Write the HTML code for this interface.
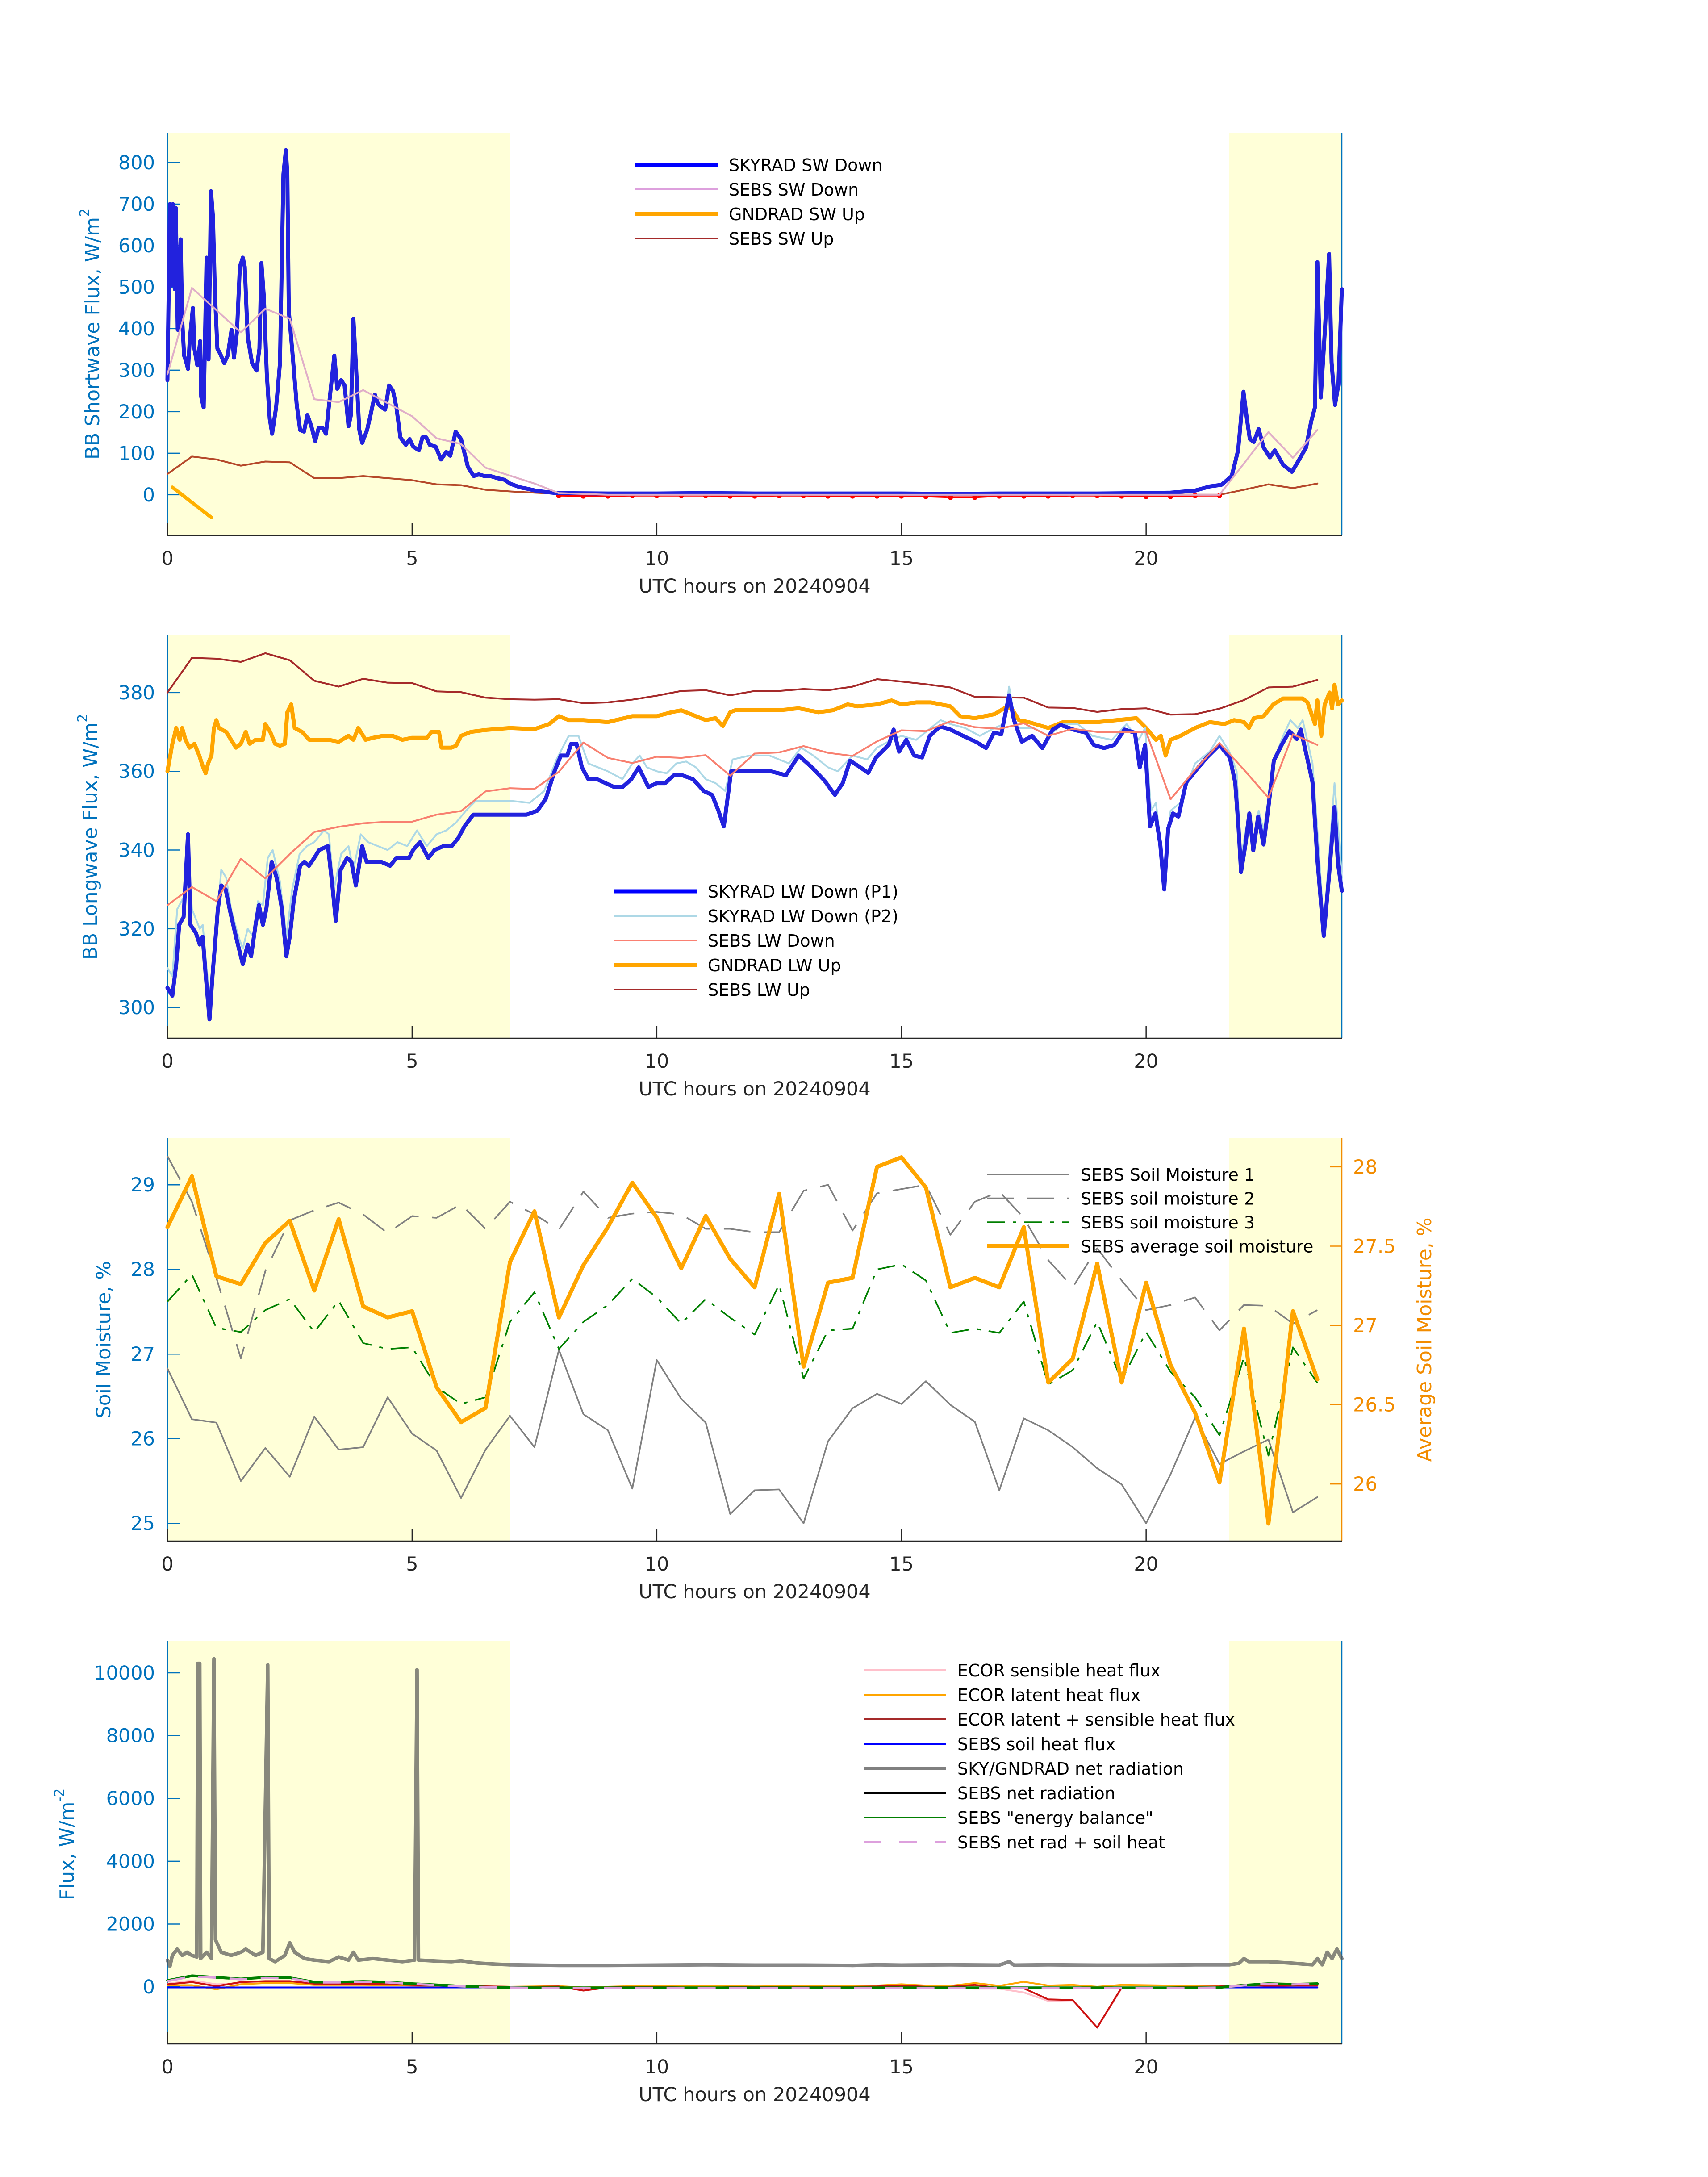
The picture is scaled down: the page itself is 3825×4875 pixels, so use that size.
<!DOCTYPE html>
<html><head><meta charset="utf-8"><style>
html,body{margin:0;padding:0;background:#fff;}
svg{display:block;font-family:"DejaVu Sans","Liberation Sans",sans-serif;}
</style></head><body>
<svg id="chart" xmlns="http://www.w3.org/2000/svg" width="3825" height="4875" viewBox="0 0 3825 4875">
<rect x="0" y="0" width="3825" height="4875" fill="#fff"/>
</svg>
<script>
// ---------- Panel 1: shortwave ----------
const swSkyH=[0,0.05,0.08,0.11,0.15,0.17,0.21,0.27,0.3,0.34,0.39,0.42,0.46,0.52,0.55,0.61,0.67,0.69,0.74,0.8,0.84,0.89,0.93,0.97,1.02,1.08,1.16,1.23,1.31,1.36,1.42,1.48,1.54,1.58,1.64,1.73,1.82,1.88,1.92,1.97,2.03,2.09,2.14,2.22,2.3,2.37,2.42,2.45,2.48,2.56,2.64,2.71,2.79,2.86,2.94,3.02,3.09,3.17,3.24,3.32,3.41,3.47,3.55,3.62,3.7,3.75,3.8,3.85,3.92,3.98,4.08,4.15,4.24,4.3,4.38,4.45,4.53,4.61,4.68,4.76,4.87,4.95,5.02,5.14,5.21,5.29,5.36,5.48,5.59,5.7,5.78,5.89,6.0,6.14,6.26,6.36,6.48,6.6,6.74,6.89,7.0,7.2,7.33,7.56,7.94,9,10,11,12,13,14,15,16,17,18,19,20,20.5,21.0,21.3,21.54,21.75,21.88,21.99,22.06,22.12,22.2,22.3,22.4,22.53,22.63,22.8,22.98,23.1,23.27,23.37,23.45,23.5,23.57,23.65,23.74,23.79,23.86,23.93,24];
const swSkyV=[276,700,504,700,495,691,397,615,424,335,317,303,379,450,352,312,370,236,210,571,326,731,669,486,352,339,317,335,397,330,392,549,571,549,379,317,299,352,558,477,290,183,147,210,317,772,830,772,442,335,219,156,152,192,165,129,161,161,147,236,335,255,276,263,165,192,424,317,156,125,156,192,241,219,210,205,263,250,210,138,120,134,116,107,138,138,120,116,85,103,94,152,134,67,45,49,45,45,40,36,27,18,15,9,4,3,3,4,3,3,3,3,2,3,3,3,4,5,10,20,24,45,107,248,182,134,127,158,114,90,107,72,55,79,114,175,210,560,234,388,580,319,216,265,495];
const swSebsDownH=[0,0.5,1.5,2.0,2.5,3.0,3.5,4.0,5.0,5.5,6.0,6.5,7.5,8.0,9,12,15,18,21,21.5,22.5,23.0,23.5];
const swSebsDownV=[290,498,391,448,424,230,223,252,189,136,122,65,27,4,0,0,0,0,0,0,151,89,156];
const swGndH=[0.1,0.9];
const swGndV=[18,-55];
const swSebsUpH=[0,0.5,1,1.5,2,2.5,3,3.5,4,4.5,5,5.5,6,6.5,7,8,10,14,18,21.5,22,22.5,23,23.5];
const swSebsUpV=[50,92,85,70,80,78,40,40,45,40,35,25,23,12,8,2,1,1,1,0,12,25,16,27];
const swRedH=[8,8.5,9,9.5,10,10.5,11,11.5,12,12.5,13,13.5,14,14.5,15,15.5,16,16.5,17,17.5,18,18.5,19,19.5,20,20.5,21,21.5];
const swRedV=[-2,-3,-3,-2,-2,-2,-2,-3,-3,-2,-2,-3,-3,-3,-3,-4,-6,-6,-3,-3,-3,-2,-2,-3,-4,-4,-2,-2];
const swTicks=[0,100,200,300,400,500,600,700,800];
// ---------- Panel 2: longwave ----------
const lwP1H=[0,0.1,0.18,0.24,0.33,0.42,0.47,0.58,0.66,0.72,0.77,0.86,0.92,1.03,1.1,1.19,1.27,1.4,1.54,1.64,1.71,1.8,1.87,1.95,2.02,2.13,2.23,2.34,2.43,2.5,2.58,2.71,2.8,2.89,3.0,3.1,3.28,3.37,3.44,3.54,3.67,3.76,3.85,3.98,4.07,4.24,4.37,4.55,4.68,4.81,4.94,5.02,5.16,5.33,5.46,5.64,5.81,5.94,6.07,6.25,6.47,6.68,7.03,7.34,7.56,7.73,7.91,8.04,8.17,8.25,8.36,8.47,8.6,8.78,8.95,9.13,9.3,9.48,9.63,9.83,10.0,10.17,10.35,10.52,10.74,10.96,11.13,11.26,11.37,11.52,11.9,12.33,12.64,12.9,13.17,13.43,13.64,13.8,13.95,14.16,14.32,14.48,14.74,14.84,14.95,15.1,15.26,15.42,15.58,15.79,16.0,16.26,16.52,16.73,16.89,17.04,17.2,17.3,17.46,17.67,17.88,18.09,18.25,18.51,18.77,18.93,19.14,19.35,19.56,19.77,19.87,19.98,20.08,20.19,20.29,20.37,20.45,20.55,20.66,20.82,21.03,21.24,21.5,21.71,21.82,21.89,21.94,22.03,22.11,22.19,22.29,22.4,22.5,22.61,22.77,22.93,23.08,23.16,23.29,23.4,23.5,23.63,23.74,23.85,23.92,24.0];
const lwP1V=[305,303,311,321,323,344,321,319,316,318,310,297,308,325,331,330,325,318,311,316,313,321,326,321,325,337,333,325,313,318,327,336,337,336,338,340,341,331,322,335,338,337,331,341,337,337,337,336,338,338,338,340,342,338,340,341,341,343,346,349,349,349,349,349,350,353,360,364,364,367,367,361,358,358,357,356,356,358,361,356,357,357,359,359,358,355,354,350,346,360,360,360,359,364,361,357.6,354,357,362.7,361,359.6,363.5,366.7,370.6,365,368,364,363.5,369,371.4,370.6,369,367.5,365.9,369.8,369.4,379.3,373,367.5,369,365.9,370.6,371.8,370.6,369.8,366.7,365.9,366.7,370.6,369.8,361,366.7,346,349.3,341.4,330,345.4,349.3,348.5,357.2,360.4,363.5,366.7,363.5,357.2,345.4,334.4,341.4,349.3,339.9,348.5,341.4,350.9,362.7,366.7,370.2,368.2,370.6,363.5,357.2,337.5,318.2,333.6,350.9,336.7,329.6];
const lwP2H=[0,0.1,0.2,0.33,0.42,0.5,0.66,0.72,0.8,0.87,1.0,1.1,1.2,1.3,1.45,1.54,1.64,1.75,1.85,1.95,2.05,2.15,2.3,2.43,2.55,2.7,2.85,3.0,3.2,3.3,3.4,3.55,3.7,3.8,3.95,4.1,4.3,4.5,4.7,4.9,5.1,5.3,5.5,5.7,5.9,6.1,6.3,6.6,7.0,7.4,7.7,7.95,8.2,8.4,8.6,8.8,9.0,9.3,9.5,9.65,9.8,10.0,10.2,10.4,10.6,10.8,11.0,11.2,11.4,11.55,11.9,12.3,12.7,12.95,13.2,13.5,13.7,14.0,14.3,14.5,14.8,15.0,15.3,15.6,15.8,16.0,16.3,16.6,16.9,17.1,17.2,17.35,17.7,18.0,18.3,18.6,18.9,19.3,19.6,19.85,19.98,20.1,20.2,20.37,20.5,20.7,21.0,21.3,21.5,21.7,21.85,21.94,22.05,22.2,22.3,22.4,22.5,22.65,22.8,22.95,23.1,23.2,23.4,23.5,23.63,23.75,23.85,23.93,24];
const lwP2V=[310,308,325,328,341,325,320,321,310,302,320,335,333,325,318,315,320,318,327,326,338,340,332,318,330,339,341,342,345,344,330,339,341,335,344,342,341,340,342,341,345,341,344,345,347,350,352.5,352.5,352.5,352,355,363,369,369,362,361,360,358,362,364,361,360,359.5,362,362.5,361,358,357,355,363,364,364,362,366,364,361,360,364,363,366,368,369,368,371,373,372,371,369,371,372,381.5,371,371,369,372,372,369,368,372,368,371,350,352,334,350,352,362,365,369,365,360,338,346,343,350,345,353,364,369,373,371,373,362,345,321,340,357,345,333];
const lwSebsDownH=[0,0.5,1,1.5,2,2.5,3,3.5,4,4.5,5,5.5,6,6.5,7,7.5,8,8.5,9,9.5,10,10.5,11,11.5,12,12.5,13,13.5,14,14.5,15,15.5,16,16.5,17,17.5,18,18.5,19,19.5,20,20.5,21,21.5,22,22.5,23,23.5];
const lwSebsDownV=[326,330.6,327,337.8,332.8,339,344.6,345.9,346.8,347.2,347.2,349,349.9,354.9,355.7,355.5,359.9,367.3,363.4,362.1,363.7,363.4,364.1,358.9,364.5,364.8,366.4,364.7,363.9,367.6,370.4,370.2,372.7,371.2,370.8,372.2,369,370.8,370,370,370,352.9,360.4,367.2,360.4,353.3,369.4,366.7];
const lwGndH=[0,0.1,0.18,0.25,0.3,0.37,0.45,0.55,0.65,0.73,0.78,0.83,0.9,0.95,1.0,1.05,1.2,1.3,1.4,1.5,1.6,1.68,1.8,1.95,2.0,2.1,2.2,2.3,2.4,2.45,2.53,2.6,2.75,2.9,3.1,3.3,3.5,3.7,3.8,3.9,4.05,4.2,4.4,4.6,4.8,5.0,5.3,5.4,5.55,5.6,5.8,5.9,6.0,6.2,6.5,7.0,7.5,7.8,8.0,8.2,8.5,9.0,9.5,10.0,10.3,10.5,10.8,11.0,11.2,11.35,11.5,11.6,12.0,12.5,12.9,13.3,13.6,13.9,14.1,14.5,14.8,15.0,15.3,15.6,15.8,16.0,16.2,16.5,16.9,17.1,17.25,17.4,17.6,18.0,18.3,18.6,19.0,19.4,19.8,20.0,20.2,20.3,20.4,20.5,20.7,21.0,21.3,21.6,21.8,22.0,22.1,22.2,22.4,22.6,22.8,23.0,23.2,23.3,23.45,23.5,23.58,23.65,23.75,23.8,23.85,23.92,24];
const lwGndV=[360,367,371,368,371,368,366,367,364,361,359.5,362,364,371,373,371,370,368,366,367,370,367,368,368,372,370,367,366.5,367,375,377,371,370,368,368,368,367.5,369,368,371,368,368.5,369,369,368,368.5,368.5,370,370,366,366,366.5,369,370,370.5,371,370.7,372,374,373,373,372.5,374,374,375,375.5,374,373,373.5,371.5,375,375.5,375.5,375.5,376,375,375.5,377,376.5,377,378,377,377.5,377.5,377,376.5,374,373.5,374.5,376,376,373,372.5,371,372.5,372.5,372.5,373,373.5,371,368,369,364,368,369,371,372.5,372,373,372.5,371,373.5,374,377,378.5,378.5,378.5,377.5,372,378,369,377,380,376,382,377,378];
const lwSebsUpH=[0,0.5,1,1.5,2,2.5,3,3.5,4,4.5,5,5.5,6,6.5,7,7.5,8,8.5,9,9.5,10,10.5,11,11.5,12,12.5,13,13.5,14,14.5,15,15.5,16,16.5,17,17.5,18,18.5,19,19.5,20,20.5,21,21.5,22,22.5,23,23.5];
const lwSebsUpV=[380,388.8,388.6,387.8,390,388.2,383,381.5,383.5,382.5,382.4,380.3,380.1,378.7,378.3,378.2,378.3,377.3,377.5,378.2,379.2,380.4,380.6,379.3,380.4,380.4,380.9,380.6,381.5,383.4,382.8,382.1,381.3,378.9,378.8,378.7,376.2,376.1,375.1,375.8,376,374.4,374.5,375.9,378.1,381.3,381.5,383.2];
const lwTicks=[300,320,340,360,380];
// ---------- Panel 3: soil moisture ----------
const smH=[0,0.5,1,1.5,2,2.5,3,3.5,4,4.5,5,5.5,6,6.5,7,7.5,8,8.5,9,9.5,10,10.5,11,11.5,12,12.5,13,13.5,14,14.5,15,15.5,16,16.5,17,17.5,18,18.5,19,19.5,20,20.5,21,21.5,22,22.5,23,23.5];
const sm1V=[26.83,26.23,26.19,25.5,25.89,25.55,26.26,25.87,25.9,26.49,26.06,25.86,25.3,25.87,26.27,25.9,27.05,26.29,26.1,25.41,26.93,26.47,26.19,25.11,25.39,25.4,25.0,25.97,26.36,26.53,26.41,26.68,26.4,26.2,25.39,26.24,26.1,25.9,25.65,25.46,25.0,25.58,26.25,25.7,25.85,25.99,25.13,25.31];
const sm2V=[29.34,28.8,27.9,26.95,27.98,28.58,28.7,28.79,28.65,28.43,28.63,28.61,28.77,28.48,28.8,28.65,28.47,28.92,28.61,28.66,28.68,28.65,28.48,28.48,28.44,28.44,28.93,29.0,28.46,28.9,28.95,29.0,28.41,28.8,28.92,28.61,28.11,27.79,28.25,27.87,27.52,27.58,27.67,27.28,27.58,27.57,27.36,27.52];
const sm3V=[27.62,27.94,27.31,27.26,27.52,27.65,27.26,27.63,27.13,27.06,27.08,26.61,26.41,26.49,27.38,27.73,27.06,27.38,27.58,27.89,27.67,27.36,27.65,27.43,27.23,27.82,26.71,27.28,27.3,28.0,28.06,27.87,27.25,27.3,27.25,27.62,26.64,26.81,27.38,26.69,27.26,26.79,26.49,26.04,26.96,25.8,27.08,26.66];
const smAvgV=[27.62,27.94,27.31,27.26,27.52,27.66,27.22,27.67,27.12,27.05,27.09,26.61,26.39,26.48,27.4,27.72,27.05,27.38,27.62,27.9,27.68,27.36,27.69,27.42,27.24,27.83,26.74,27.27,27.3,28.0,28.06,27.87,27.24,27.3,27.24,27.62,26.64,26.79,27.39,26.64,27.27,26.75,26.45,26.01,26.98,25.75,27.09,26.66];
const smTicks=[25,26,27,28,29];
const smAvgTicks=[26,26.5,27,27.5,28];
const smAvgTickLabels=["26","26.5","27","27.5","28"];
// ---------- Panel 4: fluxes ----------
const netH=[0,0.05,0.1,0.2,0.3,0.4,0.5,0.6,0.62,0.66,0.68,0.8,0.9,0.95,0.98,1.1,1.3,1.5,1.6,1.8,1.95,2.05,2.08,2.2,2.4,2.5,2.6,2.8,3.0,3.3,3.5,3.7,3.8,3.9,4.2,4.5,4.8,5.05,5.1,5.13,5.5,5.8,6.0,6.3,6.7,7,8,9,10,11,12,13,14,14.5,15,16,17,17.2,17.3,18,19,20,21,21.7,21.9,22.0,22.1,22.5,23.0,23.4,23.5,23.6,23.7,23.8,23.9,24];
const netV=[850,650,1000,1200,1000,1100,1000,950,10300,10300,900,1100,900,10450,1500,1100,1000,1100,1200,1000,1100,10250,900,800,1000,1400,1100,900,850,800,950,850,1100,850,900,850,800,850,10100,850,820,800,830,760,720,700,680,680,690,700,690,690,680,700,690,700,690,800,690,700,690,690,700,700,750,900,800,800,750,700,900,700,1100,900,1200,900];
const fluxH=[0,0.5,1,1.5,2,2.5,3,3.5,4,4.5,5,5.5,6,6.5,7,7.5,8,8.5,9,9.5,10,10.5,11,11.5,12,12.5,13,13.5,14,14.5,15,15.5,16,16.5,17,17.5,18,18.5,19,19.5,20,20.5,21,21.5,22,22.5,23,23.5];
const ecorSensV=[100,200,80,100,140,130,80,70,70,60,40,30,20,10,0,-10,-20,-30,-20,-10,-20,-20,-30,-20,-20,-20,-20,-20,-20,-30,-40,-40,-30,-60,-60,-180,-450,-430,-1300,-50,-60,-40,-30,-20,20,10,10,20];
const ecorLatV=[50,50,-80,80,120,120,60,60,60,50,40,30,20,10,0,10,20,-20,0,20,30,30,30,20,10,20,20,20,20,40,80,40,30,120,30,160,40,60,0,60,50,40,30,30,40,40,40,60];
const ecorSumV=[80,150,20,150,180,180,100,100,100,80,60,45,30,15,0,0,10,-120,-20,0,0,-20,-40,-10,0,0,0,0,0,10,40,0,0,60,-40,-50,-400,-420,-1300,-20,-40,-20,0,10,60,30,40,40];
const sebsGV=[-20,-20,-20,-20,-20,-20,-20,-20,-20,-20,-20,-20,-20,-20,-20,-20,-20,-20,-20,-20,-20,-20,-20,-20,-20,-20,-20,-20,-20,-20,-20,-20,-20,-20,-20,-20,-20,-20,-20,-20,-20,-20,-20,-20,-20,-20,-20,-20];
const sebsEbV=[200,350,300,250,300,290,150,150,170,150,100,60,20,-10,-20,-30,-30,-30,-30,-30,-30,-30,-30,-30,-30,-30,-30,-30,-30,-30,-30,-30,-30,-30,-30,-30,-30,-30,-30,-30,-30,-30,-30,-20,50,100,80,100];
const sebsNetV=[180,330,290,240,280,270,140,140,160,140,90,55,15,-15,-25,-35,-35,-35,-35,-35,-35,-35,-35,-35,-35,-35,-35,-35,-35,-35,-35,-35,-35,-35,-35,-35,-35,-35,-35,-35,-35,-35,-35,-25,45,95,75,95];
const fluxTicks=[0,2000,4000,6000,8000,10000];
const xTicks=[0,5,10,15,20];
const nightSpans=[[0,7],[21.7,24]];

// ---------- drawing ----------
const NS="http://www.w3.org/2000/svg";
const svg=document.getElementById('chart');
const AX_L=375, AX_R=3005, PH=902;
const AXIS_BLUE="#0072BD", DARK="#262626", ORANGE_AX="#F28C00";
function mk(tag,attrs,parent){const e=document.createElementNS(NS,tag);for(const k in attrs)e.setAttribute(k,attrs[k]);(parent||svg).appendChild(e);return e;}
function xS(h){return AX_L+(h/24)*(AX_R-AX_L);}
function yScale(top,lo,hi){return v=>top+PH-(v-lo)/(hi-lo)*PH;}
function line(g,hs,vs,ys,stroke,w,name,extra){
  let d="";for(let i=0;i<hs.length;i++){d+=(i?"L":"M")+xS(hs[i]).toFixed(1)+","+ys(vs[i]).toFixed(1);}
  const p=mk('path',Object.assign({d:d,fill:"none",stroke:stroke,"stroke-width":w,"stroke-linejoin":"round","stroke-linecap":"round"},extra||{}),g);
  
  
  return p;
}
function text(g,x,y,str,size,fill,anchor,name,extra){
  const t=mk('text',Object.assign({x:x,y:y,"font-size":size,fill:fill,"text-anchor":anchor||"start"},extra||{}),g);
  t.textContent=str;
  
  
  return t;
}
function panel(name,top,lo,hi,ticks,rightColor){
  const g=mk('g',{});
  
  
  const ys=yScale(top,lo,hi);
  nightSpans.forEach(s=>{
    const r=mk('rect',{x:xS(s[0]),y:top,width:xS(s[1])-xS(s[0]),height:PH,fill:"#FFFFD8"},g);
    
    
  });
  const la=mk('line',{x1:AX_L,y1:top,x2:AX_L,y2:top+PH,stroke:AXIS_BLUE,"stroke-width":2.5},g);
  
  
  const ra=mk('line',{x1:AX_R,y1:top,x2:AX_R,y2:top+PH,stroke:rightColor||AXIS_BLUE,"stroke-width":2.5},g);
  
  
  const ba=mk('line',{x1:AX_L,y1:top+PH,x2:AX_R,y2:top+PH,stroke:DARK,"stroke-width":2.5},g);
  
  
  ticks.forEach(t=>{
    const y=ys(t);
    mk('line',{x1:AX_L,y1:y,x2:AX_L+27,y2:y,stroke:AXIS_BLUE,"stroke-width":2.5},g);
    text(g,AX_L-28,y+15,String(t),43,AXIS_BLUE,"end",'y-tick-label');
  });
  xTicks.forEach(t=>{
    const x=xS(t);
    mk('line',{x1:x,y1:top+PH,x2:x,y2:top+PH-27,stroke:DARK,"stroke-width":2.5},g);
    text(g,x,top+PH+66,String(t),43,DARK,"middle",'x-tick-label');
  });
  text(g,(AX_L+AX_R)/2,top+PH+128,"UTC hours on 20240904",43,DARK,"middle",'x-axis-title');
  return {g:g,ys:ys};
}
function legend(g,x,y0,dy,items){
  items.forEach((it,i)=>{
    const y=y0+i*dy;
    const l=mk('line',Object.assign({x1:x,y1:y,x2:x+185,y2:y,stroke:it[1],"stroke-width":it[2]},it[3]||{}),g);
    
    
    text(g,x+210,y+14,it[0],38,"#000","start",'legend-entry');
  });
}
function ylabel(g,x,cy,parts,color,name){
  const t=mk('text',{x:0,y:0,"font-size":44,fill:color,"text-anchor":"middle",transform:`translate(${x},${cy}) rotate(-90)`},g);
  
  
  parts.forEach(p=>{const s=mk('tspan',p[1]?{dy:p[1],"font-size":p[2]}:{},t);s.textContent=p[0];});
}

// Panel 1
let P=panel('shortwave-panel',297,-98,872,swTicks);
line(P.g,swSebsUpH,swSebsUpV,P.ys,"#B5482A",4,'sebs-sw-up-line');
line(P.g,swRedH,swRedV,P.ys,"#FF0000",4,'sebs-sw-red-line');
swRedH.forEach((h,i)=>{
  const c=mk('circle',{cx:xS(h),cy:P.ys(swRedV[i]),r:6,fill:"#FF0000"},P.g);
  
  
});
line(P.g,swSkyH,swSkyV,P.ys,"#2222DD",9,'skyrad-sw-down-line');
line(P.g,swSebsDownH,swSebsDownV,P.ys,"#E0AEC8",4,'sebs-sw-down-line');
line(P.g,swGndH,swGndV,P.ys,"#FFB000",8,'gndrad-sw-up-line');
ylabel(P.g,222,748,[["BB Shortwave Flux, W/m"],["2","-22",30]],AXIS_BLUE,'y-axis-title');
legend(P.g,1422,369,55,[["SKYRAD SW Down","#0000FF",9],["SEBS SW Down","#DDA0DD",4],["GNDRAD SW Up","#FFA500",9],["SEBS SW Up","#A52A2A",4]]);

// Panel 2
P=panel('longwave-panel',1423,292.2,394.5,lwTicks);
line(P.g,lwSebsUpH,lwSebsUpV,P.ys,"#A52A2A",4,'sebs-lw-up-line');
line(P.g,lwGndH,lwGndV,P.ys,"#FFA500",9,'gndrad-lw-up-line');
line(P.g,lwP2H,lwP2V,P.ys,"#ADD8E6",4,'skyrad-lw-down-p2-line');
line(P.g,lwP1H,lwP1V,P.ys,"#2222DD",9,'skyrad-lw-down-p1-line');
line(P.g,lwSebsDownH,lwSebsDownV,P.ys,"#F88070",4,'sebs-lw-down-line');
ylabel(P.g,217,1874,[["BB Longwave Flux, W/m"],["2","-22",30]],AXIS_BLUE,'y-axis-title');
legend(P.g,1375,1996,55,[["SKYRAD LW Down (P1)","#0000FF",9],["SKYRAD LW Down (P2)","#ADD8E6",4],["SEBS LW Down","#FA8072",4],["GNDRAD LW Up","#FFA500",9],["SEBS LW Up","#A52A2A",4]]);

// Panel 3
P=panel('soil-moisture-panel',2549,24.79,29.55,smTicks,ORANGE_AX);
const ysR=yScale(2549,25.64,28.18);
line(P.g,smH,sm1V,P.ys,"#808080",3.5,'sebs-soil-moisture-1-line');
line(P.g,smH,sm2V,P.ys,"#808080",3.5,'sebs-soil-moisture-2-line',{"stroke-dasharray":"60 30","stroke-linecap":"butt"});
line(P.g,smH,sm3V,P.ys,"#007F00",3.5,'sebs-soil-moisture-3-line',{"stroke-dasharray":"40 18 8 18","stroke-linecap":"butt"});
line(P.g,smH,smAvgV,ysR,"#FFA500",9,'sebs-average-soil-moisture-line');
smAvgTicks.forEach((t,i)=>{
  const y=ysR(t);
  mk('line',{x1:AX_R,y1:y,x2:AX_R-27,y2:y,stroke:ORANGE_AX,"stroke-width":2.5},P.g);
  text(P.g,AX_R+25,y+15,smAvgTickLabels[i],43,ORANGE_AX,"start",'right-y-tick-label');
});
ylabel(P.g,247,3000,[["Soil Moisture, %"]],AXIS_BLUE,'y-axis-title');
ylabel(P.g,3205,3000,[["Average Soil Moisture, %"]],ORANGE_AX,'right-y-axis-title');
legend(P.g,2210,2630,53.5,[["SEBS Soil Moisture 1","#808080",3.5],["SEBS soil moisture 2","#808080",3.5,{"stroke-dasharray":"60 30"}],["SEBS soil moisture 3","#007F00",3.5,{"stroke-dasharray":"40 18 8 18"}],["SEBS average soil moisture","#FFA500",9]]);

// Panel 4
P=panel('flux-panel',3675,-1820,11010,fluxTicks);
line(P.g,netH,netV,P.ys,"rgba(85,85,85,0.7)",8,'sky-gndrad-net-radiation-line');
line(P.g,fluxH,ecorSensV,P.ys,"#FFC0CB",4,'ecor-sensible-heat-flux-line');
line(P.g,fluxH,ecorLatV,P.ys,"#FFA500",4,'ecor-latent-heat-flux-line');
line(P.g,fluxH,ecorSumV,P.ys,"#CC1111",4,'ecor-latent-plus-sensible-line');
line(P.g,fluxH,sebsGV,P.ys,"#0000FF",4,'sebs-soil-heat-flux-line');
line(P.g,fluxH,sebsEbV,P.ys,"#007F00",6,'sebs-energy-balance-line');
line(P.g,fluxH,sebsNetV,P.ys,"#DDA0DD",5,'sebs-net-rad-plus-soil-heat-line',{"stroke-dasharray":"40 30","stroke-linecap":"butt"});
ylabel(P.g,165,4130,[["Flux, W/m"],["-2","-22",30]],AXIS_BLUE,'y-axis-title');
legend(P.g,1934,3740,55,[["ECOR sensible heat flux","#FFC0CB",4],["ECOR latent heat flux","#FFA500",4],["ECOR latent + sensible heat flux","#A52A2A",4],["SEBS soil heat flux","#0000FF",4],["SKY/GNDRAD net radiation","#808080",8],["SEBS net radiation","#000000",4],["SEBS \"energy balance\"","#007F00",4],["SEBS net rad + soil heat","#DDA0DD",4,{"stroke-dasharray":"40 40"}]]);
</script>
</body></html>
